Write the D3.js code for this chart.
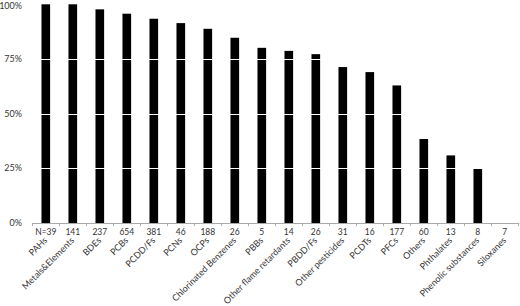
<!DOCTYPE html>
<html>
<head>
<meta charset="utf-8">
<script src="https://cdn.jsdelivr.net/npm/d3@7"></script>
<style>
  body { margin: 0; background: #fff; }
  text { font-family: Lato, "Liberation Sans", sans-serif; fill: #333; }
</style>
</head>
<body>
<div id="chart"></div>
<script>
// categories, share (%) and sample sizes
var categories = ["PAHs", "Metals&Elements", "BDEs", "PCBs", "PCDD/Fs", "PCNs", "OCPs",
  "Chlorinated Benzenes", "PBBs", "Other flame retardants", "PBDD/Fs", "Other pesticides",
  "PCDTs", "PFCs", "Others", "Phthalates", "Phenolic substances", "Siloxanes"];
var percents = [100, 100, 97.7, 95.7, 93.4, 91.4, 88.8, 84.7, 80.1, 78.7, 77.2, 71.3,
  69.0, 62.9, 38.4, 30.9, 24.8, 0];
var counts = [39, 141, 237, 654, 381, 46, 188, 26, 5, 14, 26, 31, 16, 177, 60, 13, 8, 7];
var yTicks = [0, 25, 50, 75, 100];

var width = 520, height = 306;
var plotLeft = 32.3, plotRight = 518.3, plotTop = 4.3, plotBottom = 223;

var svg = d3.select("#chart").append("svg")
    .attr("width", width)
    .attr("height", height);

var x = d3.scaleBand()
    .domain(categories)
    .range([plotLeft, plotRight])
    .paddingInner(0.68)
    .paddingOuter(0.34);

var y = d3.scaleLinear()
    .domain([0, 100])
    .range([plotBottom, plotTop]);

// bars
svg.append("g").selectAll("rect")
    .data(percents)
    .enter().append("rect")
    .attr("x", function (d, i) { return x(categories[i]); })
    .attr("y", function (d) { return y(d); })
    .attr("width", x.bandwidth())
    .attr("height", function (d) { return plotBottom - y(d); })
    .style("fill", "#000");

// gridlines show as white cuts across the bars
svg.append("g").selectAll("line")
    .data(yTicks.filter(function (t) { return t > 0 && t < 100; }))
    .enter().append("line")
    .attr("x1", plotLeft)
    .attr("x2", plotRight)
    .attr("y1", function (d) { return Math.round(y(d)) + 0.5; })
    .attr("y2", function (d) { return Math.round(y(d)) + 0.5; })
    .style("stroke", "#fff")
    .style("stroke-width", 1);

// y labels
svg.append("g").selectAll("text")
    .data(yTicks)
    .enter().append("text")
    .attr("x", 22)
    .attr("y", function (d) { return Math.max(y(d), 5.5); })
    .attr("dy", "0.35em")
    .attr("text-anchor", "end")
    .style("font-size", "9px")
    .text(function (d) { return d + "%"; });

// x axis line and boundary ticks
var axis = svg.append("g");
axis.append("line")
    .attr("x1", plotLeft).attr("x2", plotRight + 1)
    .attr("y1", plotBottom + 0.5).attr("y2", plotBottom + 0.5)
    .style("stroke", "#aaa");
var step = x.step();
axis.selectAll(".tk")
    .data(d3.range(categories.length + 1))
    .enter().append("line")
    .attr("class", "tk")
    .attr("x1", function (i) { return Math.round(plotLeft + i * step) + 0.5; })
    .attr("x2", function (i) { return Math.round(plotLeft + i * step) + 0.5; })
    .attr("y1", plotBottom)
    .attr("y2", plotBottom + 3)
    .style("stroke", "#aaa");

// sample sizes
svg.append("g").selectAll("text")
    .data(counts)
    .enter().append("text")
    .attr("x", function (d, i) { return x(categories[i]) + x.bandwidth() / 2; })
    .attr("y", 235)
    .attr("text-anchor", "middle")
    .style("font-size", "8.5px")
    .text(function (d, i) { return i === 0 ? "N=" + d : d; });

// rotated category names
svg.append("g").selectAll("text")
    .data(categories)
    .enter().append("text")
    .attr("text-anchor", "end")
    .attr("transform", function (d) {
        var cx = x(d) + x.bandwidth() / 2 + 2;
        return "translate(" + cx + ",241) rotate(-45)";
    })
    .style("font-size", "9px")
    .text(function (d) { return d; });
</script>
</body>
</html>
